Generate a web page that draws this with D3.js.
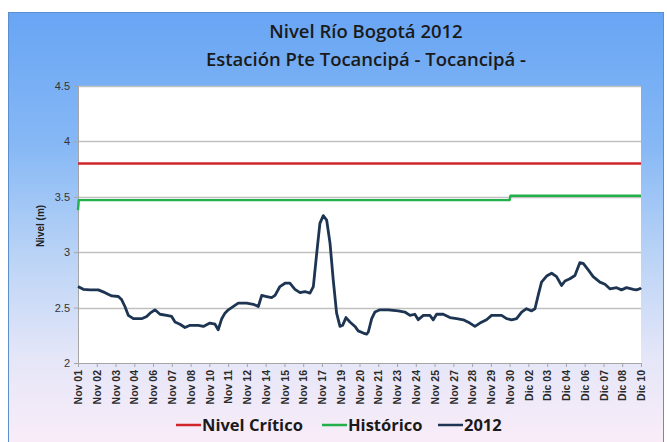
<!DOCTYPE html>
<html>
<head>
<meta charset="utf-8">
<script src="https://cdn.jsdelivr.net/npm/d3@7"></script>
<style>
  body { margin: 0; background: #fff; }
  svg { display: block; font-family: "Open Sans", "DejaVu Sans", sans-serif; }
</style>
</head>
<body>
<div id="container"></div>
<script>
/* DATA */
const xLabels = ["Nov 01","Nov 02","Nov 03","Nov 04","Nov 06","Nov 07","Nov 08","Nov 10","Nov 11","Nov 12",
  "Nov 14","Nov 15","Nov 16","Nov 17","Nov 19","Nov 20","Nov 21","Nov 23","Nov 24","Nov 25","Nov 27",
  "Nov 28","Nov 29","Nov 30","Dic 02","Dic 03","Dic 04","Dic 06","Dic 07","Dic 08","Dic 10"];
const yTicks = [2, 2.5, 3, 3.5, 4, 4.5];

// position along the label sequence (0 = Nov 01, 30 = Dic 10)
const pos2012 = [0,0.28,0.64,1.08,1.44,1.80,2.15,2.33,2.50,2.68,2.95,3.39,3.66,3.84,4.10,4.37,4.73,4.99,5.17,5.43,
  5.70,5.97,6.41,6.68,7.03,7.30,7.47,7.66,7.83,8.01,8.36,8.54,8.99,9.34,9.61,9.79,10.05,10.32,10.50,10.76,
  11.03,11.29,11.56,11.83,12.09,12.36,12.54,12.72,12.89,13.07,13.25,13.43,13.60,13.78,13.96,14.10,14.28,14.49,14.76,14.93,
  15.20,15.38,15.47,15.65,15.82,16.09,16.53,17.06,17.42,17.69,17.95,18.13,18.40,18.75,18.93,19.11,19.46,19.82,20.18,20.53,
  20.88,21.15,21.42,21.77,22.04,22.31,22.57,22.84,23.11,23.37,23.64,23.90,24.17,24.35,24.52,24.70,24.97,25.24,25.50,25.77,
  25.95,26.21,26.48,26.74,26.92,27.19,27.45,27.81,28.08,28.34,28.70,28.96,29.23,29.59,29.76,29.94,30];
const nivel2012 = [2.69,2.665,2.66,2.66,2.635,2.605,2.60,2.57,2.51,2.43,2.40,2.40,2.42,2.45,2.48,2.44,2.43,2.42,2.37,2.35,
  2.32,2.34,2.34,2.33,2.36,2.35,2.30,2.40,2.45,2.48,2.52,2.54,2.54,2.53,2.51,2.61,2.60,2.59,2.61,2.69,
  2.72,2.72,2.665,2.635,2.645,2.63,2.69,2.99,3.26,3.33,3.29,3.08,2.75,2.45,2.33,2.34,2.41,2.37,2.33,2.29,
  2.27,2.26,2.28,2.40,2.46,2.48,2.48,2.47,2.46,2.43,2.44,2.39,2.43,2.43,2.39,2.44,2.44,2.41,2.40,2.39,
  2.36,2.33,2.36,2.39,2.43,2.43,2.43,2.40,2.39,2.40,2.46,2.49,2.47,2.49,2.61,2.73,2.785,2.81,2.78,2.70,
  2.74,2.76,2.79,2.905,2.90,2.84,2.78,2.73,2.71,2.67,2.68,2.66,2.68,2.665,2.66,2.67,2.68];

const posHistorico = [0, 0.04, 23, 23.04, 30];
const historico = [3.38, 3.47, 3.47, 3.51, 3.51];
const posCritico = [0, 30];
const critico = [3.8, 3.8];

const seriesNames = ["Nivel Crítico", "Histórico", "2012"];
const seriesColors = ["#d0242b", "#22b04b", "#1d3553"];

/* LAYOUT */
const width = 667, height = 442,
  margin = { top: 86, bottom: 79, left: 78, right: 26 };

const svg = d3.select("#container").append("svg")
  .attr("width", width).attr("height", height);

const defs = svg.append("defs");
const grad = defs.append("linearGradient").attr("id", "bg")
  .attr("x1", 0).attr("y1", 0).attr("x2", 0).attr("y2", 1);
[["0%", "#68a5f4"], ["30%", "#86b8f5"], ["55%", "#b9d3f6"], ["78%", "#e4e6f8"], ["100%", "#fcedf8"]]
  .forEach(([o, c]) => grad.append("stop").attr("offset", o).attr("stop-color", c));

// chart frame
svg.append("rect")
  .attr("x", 8.5).attr("y", 12.5).attr("width", 655).attr("height", 440)
  .attr("fill", "url(#bg)").attr("stroke", "#5b8fd0").attr("stroke-width", 1);

/* SCALES */
const xScale = d3.scaleLinear().domain([0, 30]).range([margin.left, width - margin.right]);
const yScale = d3.scaleLinear().domain([2, 4.5]).range([height - margin.bottom, margin.top]);

// plot area
svg.append("rect")
  .attr("x", margin.left).attr("y", margin.top)
  .attr("width", xScale(30) - margin.left).attr("height", yScale(2) - margin.top)
  .attr("fill", "#fff");

// gridlines
svg.append("g").selectAll("line").data(yTicks.filter(d => d > 2)).join("line")
  .attr("x1", margin.left).attr("x2", xScale(30))
  .attr("y1", d => Math.round(yScale(d)) + 0.5).attr("y2", d => Math.round(yScale(d)) + 0.5)
  .attr("stroke", "#c0c0c0").attr("stroke-width", 1.3);

// y axis
const yAxis = d3.axisLeft(yScale).tickValues(yTicks).tickFormat(d3.format("")).tickSize(4).tickPadding(4);
const gy = svg.append("g").attr("transform", `translate(${margin.left},0)`).call(yAxis);
gy.select(".domain").attr("stroke", "#a6a6a6");
gy.selectAll(".tick line").attr("stroke", "#a6a6a6");
gy.selectAll("text").attr("font-size", 11).attr("fill", "#333").attr("font-family", "Liberation Sans Narrow, Liberation Sans, sans-serif");

// x axis
const xAxis = d3.axisBottom(xScale).tickValues(d3.range(xLabels.length))
  .tickFormat(i => xLabels[i]).tickSize(4).tickSizeOuter(0);
const gx = svg.append("g").attr("transform", `translate(0,${yScale(2)})`).call(xAxis);
gx.select(".domain").attr("stroke", "#a6a6a6");
gx.selectAll(".tick line").attr("stroke", "#a6a6a6");
gx.selectAll("text")
  .attr("font-size", 10.5).attr("font-weight", "bold").attr("fill", "#2a2a2a")
  .attr("font-family", "Liberation Sans Narrow, Liberation Sans, sans-serif")
  .attr("text-anchor", "end").attr("dy", "0.35em")
  .attr("transform", "translate(0,3) rotate(-90)")
  .attr("x", -4).attr("y", 0);

// axis title
svg.append("text")
  .attr("transform", `translate(44,226) rotate(-90)`)
  .attr("text-anchor", "middle")
  .attr("font-size", 10).attr("font-weight", "bold").attr("fill", "#222")
  .attr("font-family", "Liberation Sans Narrow, Liberation Sans, sans-serif")
  .text("Nivel (m)");

/* LINES */
const line = d3.line().x(d => xScale(d[0])).y(d => yScale(d[1]));
const seriesData = [
  d3.zip(posCritico, critico),
  d3.zip(posHistorico, historico),
  d3.zip(pos2012, nivel2012)
];
svg.append("g").selectAll("path").data(seriesData).join("path")
  .attr("d", line)
  .attr("fill", "none")
  .attr("stroke", (d, i) => seriesColors[i])
  .attr("stroke-width", (d, i) => i === 2 ? 2.8 : 2.4)
  .attr("stroke-linejoin", "round");

/* TITLE */
svg.append("text").attr("x", 366).attr("y", 38).attr("text-anchor", "middle")
  .attr("font-size", 18.5).attr("font-weight", 600).attr("fill", "#1a1a1a")
  .text("Nivel Río Bogotá 2012");
svg.append("text").attr("x", 366).attr("y", 66).attr("text-anchor", "middle")
  .attr("font-size", 18.5).attr("font-weight", 600).attr("fill", "#1a1a1a")
  .text("Estación Pte Tocancipá - Tocancipá -");

/* LEGEND */
const legendX = [176, 322, 438];
const legend = svg.append("g").selectAll("g").data(seriesNames).join("g")
  .attr("transform", (d, i) => `translate(${legendX[i]},425)`);
legend.append("line").attr("x1", 0).attr("x2", 25).attr("y1", 0).attr("y2", 0)
  .attr("stroke", (d, i) => seriesColors[i]).attr("stroke-width", 2.5);
legend.append("text").attr("x", 26).attr("y", 0).attr("dy", "0.36em")
  .attr("font-size", 16.5).attr("font-weight", "bold").attr("fill", "#1a1a1a")
  .text(d => d);
</script>
</body>
</html>
